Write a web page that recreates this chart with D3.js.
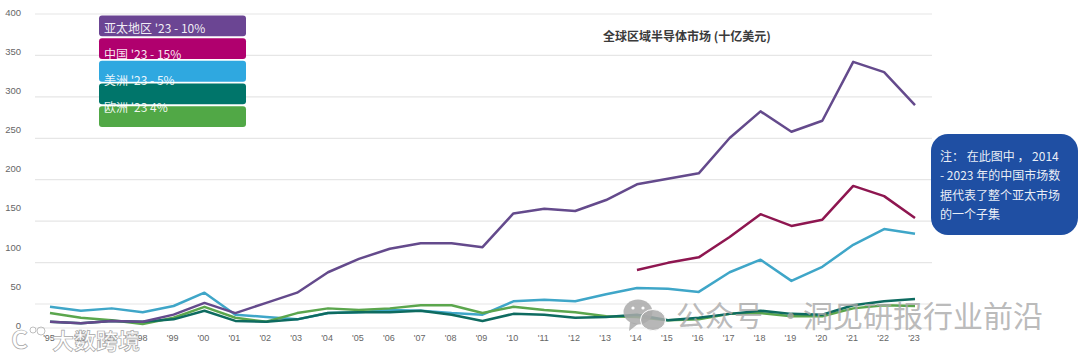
<!DOCTYPE html>
<html><head><meta charset="utf-8">
<script src="https://cdn.jsdelivr.net/npm/d3@7"></script>
<style>html,body{margin:0;padding:0;background:#fff;overflow:hidden}svg{display:block}
text{font-family:"Noto Sans CJK SC","Open Sans",sans-serif}
.tick{font-family:"Liberation Sans",Arial,sans-serif}</style></head>
<body><svg id="c" width="1080" height="359"></svg>
<script>
const years=["'95","'96","'97","'98","'99","'00","'01","'02","'03","'04","'05","'06","'07","'08","'09","'10","'11","'12","'13","'14","'15","'16","'17","'18","'19","'20","'21","'22","'23"];
const apac=[8,6,9,8,17,32,19,32,45,71,88,101,108,108,103,146,152,149,163,183,190,197,242,276,250,264,339,326,284];
const china=[null,null,null,null,null,null,null,null,null,null,null,null,null,null,null,null,null,null,null,74,83,90,116,145,130,138,181,168,140];
const americas=[27,22,25,20,28,45,17,14,11,19,20,23,22,19,17,34,36,34,43,51,50,46,71,87,60,78,106,126,120];
const europe=[19,13,10,5,13,27,13,8,19,25,23,25,29,29,19,27,23,20,15,14,10,11,18,19,15,15,25,29,28];
const japan=[8,6,9,8,11,22,9,8,11,19,20,20,22,17,9,18,17,13,14,17,10,13,18,22,18,17,29,34,37];
const gridValues=[50,100,150,200,250,300,350,400];
const tickValues=[0,50,100,150,200,250,300,350,400];
const legendNames=["亚太地区 '23 - 10%","中国 '23 - 15%","美洲 '23 - 5%","","欧洲 '23 4%"];
const legendColors=["#6b4593","#b0006e","#2fa8e0","#00756a","#51a846"];
const series=[[americas,"#3fa6c8"],[europe,"#5ba64d"],[japan,"#0e6b60"],[china,"#8e1650"],[apac,"#644a8c"]];
const noteLines=["注： 在此图中 ， 2014","- 2023 年的中国市场数","据代表了整个亚太市场","的一个子集"];

const svg=d3.select("#c");
const x=d3.scalePoint().domain(years).range([50,915]);
const yLabel=d3.scaleLinear().domain([0,400]).range([326.5,13]);
const yGrid=d3.scaleLinear().domain([50,400]).range([304,14]);
const y=d3.scaleLinear().domain([0,400]).range([328,14]);
svg.append("g").selectAll("line").data(gridValues).join("line")
 .attr("x1",35).attr("x2",932).attr("y1",d=>yGrid(d)).attr("y2",d=>yGrid(d))
 .attr("stroke","#e6e6e6").attr("stroke-width",1.2);
svg.append("line").attr("x1",35).attr("x2",932).attr("y1",y(0)).attr("y2",y(0)).attr("stroke","#e6e6e6").attr("stroke-width",1.2);
svg.append("g").selectAll("text").data(tickValues).join("text").attr("class","tick")
 .attr("x",21).attr("y",d=>yLabel(d)).attr("text-anchor","end").attr("dominant-baseline","middle")
 .attr("font-size",9.5).attr("fill","#666").text(d=>d);
svg.append("g").selectAll("text").data(years).join("text").attr("class","tick")
 .attr("x",d=>x(d)-1).attr("y",341).attr("text-anchor","middle")
 .attr("font-size",9).attr("fill","#666").text(d=>d);
const line=d3.line().defined(d=>d!=null).x((d,i)=>x(years[i])).y(d=>y(d));
svg.append("g").selectAll("path").data(series).join("path")
 .attr("d",d=>line(d[0])).attr("fill","none").attr("stroke",d=>d[1]).attr("stroke-width",2.5).attr("stroke-linejoin","round");
const lg=svg.append("g");
const lgY=d3.scaleBand().domain(d3.range(5)).range([15.5,127]).paddingInner(0.08).paddingOuter(0);
lg.selectAll("rect").data(legendColors).join("rect")
 .attr("x",99).attr("width",147).attr("y",(d,i)=>lgY(i)).attr("height",lgY.bandwidth()).attr("rx",3).attr("fill",d=>d);
lg.selectAll("text").data(legendNames).join("text")
 .attr("x",104).attr("y",(d,i)=>[33,58.5,84.5,0,112][i]).attr("font-size",12).attr("fill","#fff").attr("fill-opacity",.92).text(d=>d);
svg.append("text").attr("x",687).attr("y",41).attr("text-anchor","middle").attr("font-size",12).attr("font-weight",700).attr("fill","#3a3a3a").text("全球区域半导体市场 (十亿美元)");
svg.append("rect").attr("x",931).attr("y",134).attr("width",147).attr("height",101).attr("rx",17).attr("fill","#1f4fa3");
svg.append("g").selectAll("text").data(noteLines).join("text")
 .attr("x",940).attr("y",(d,i)=>161+i*19.4).attr("font-size",12).attr("fill","#fff").attr("fill-opacity",.92).text(d=>d);
const wm=svg.append("g").attr("fill","#a8a8a8").attr("fill-opacity",.8);
wm.append("text").attr("x",676).attr("y",327).attr("font-size",29).text("公众号");
wm.append("text").attr("x",776).attr("y",327).attr("font-size",29).text("·");
wm.append("text").attr("x",803).attr("y",327).attr("font-size",30).text("洞见研报行业前沿");
const ic=svg.append("g");
ic.append("ellipse").attr("cx",638).attr("cy",312).attr("rx",14.5).attr("ry",12.5).attr("fill","#aaa").attr("fill-opacity",.85);
ic.append("path").attr("d",d3.line()([[630,322],[629,331],[638,324]])).attr("fill","#aaa").attr("fill-opacity",.85);
ic.append("ellipse").attr("cx",653).attr("cy",320).attr("rx",12.5).attr("ry",10.5).attr("fill","#aaa").attr("fill-opacity",.85).attr("stroke","#fff").attr("stroke-width",1);
ic.selectAll("circle").data([[633,308],[643,308]]).join("circle").attr("cx",d=>d[0]).attr("cy",d=>d[1]).attr("r",1.6).attr("fill","#fff");
const wm2=svg.append("g").attr("fill","#fff").attr("fill-opacity",.85).attr("stroke","#a5a5a5").attr("stroke-width",.7);
wm2.append("text").attr("x",52).attr("y",349).attr("font-size",22).attr("font-weight",700).text("大数跨境");
wm2.append("text").attr("x",11).attr("y",349).attr("font-size",26).attr("font-weight",700).text("C");
wm2.selectAll("circle").data([[33,330,3],[41,331,4]]).join("circle").attr("cx",d=>d[0]).attr("cy",d=>d[1]).attr("r",d=>d[2]).attr("fill","none");
</script></body></html>
